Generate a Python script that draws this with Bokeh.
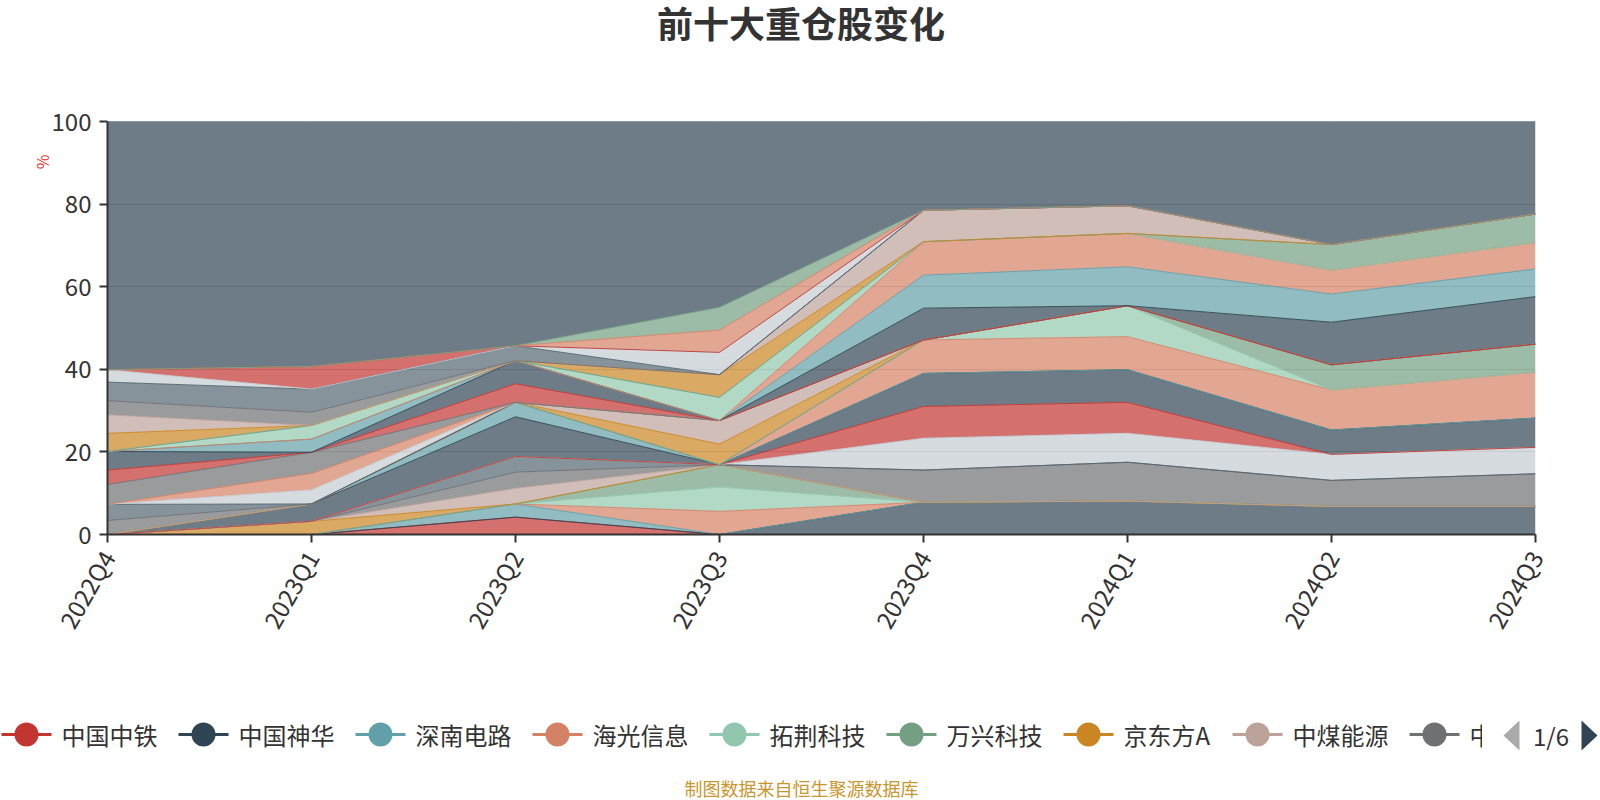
import math
from bokeh.plotting import figure
from bokeh.models import Range1d, FixedTicker, ColumnDataSource, Title
from bokeh.layouts import column, row
from bokeh.embed import file_html
from bokeh.resources import INLINE
from bokeh.core.properties import value

FONT = "Noto Sans CJK SC"

quarters = ["2022Q4", "2023Q1", "2023Q2", "2023Q3", "2023Q4", "2024Q1", "2024Q2", "2024Q3"]
palette = ["#c23531", "#2f4554", "#61a0a8", "#d48265", "#91c7ae", "#749f83",
           "#ca8622", "#bda29a", "#6e7074", "#546570", "#c4ccd3"]

legend_names = ["中国中铁", "中国神华", "深南电路", "海光信息", "拓荆科技",
                "万兴科技", "京东方A", "中煤能源", "中"]

# holdings (% of net value), per series in original series order
s00 = [0, 0, 4.2, 0, 0, 0, 0, 0]          # 中国中铁
s01 = [0, 0, 0, 0, 7.8, 8.1, 6.8, 6.8]    # 中国神华
s02 = [0, 0, 3.2, 0, 0, 0, 0, 0]          # 深南电路
s03 = [0, 0, 0, 5.6, 0, 0, 0, 0]          # 海光信息
s04 = [0, 0, 0, 5.9, 0, 0, 0, 0]          # 拓荆科技
s05 = [0, 0, 0, 5.4, 0, 0, 0, 0]          # 万兴科技
s06 = [0, 3.2, 0, 0, 0, 0, 0, 0]          # 京东方A
s07 = [0, 0, 3.8, 0, 0, 0, 0, 0]          # 中煤能源
s08 = [0, 0, 3.9, 0, 7.8, 9.4, 6.3, 7.9]
s09 = [0, 0, 3.8, 0, 0, 0, 0, 0]
s10 = [0, 0, 0, 0, 7.7, 7.0, 6.3, 6.4]
s11 = [0, 0, 0, 0, 7.7, 7.5, 0, 0]
s12 = [0, 4.2, 9.6, 0, 8.0, 7.9, 5.9, 7.1]
s13 = [0, 0, 3.5, 0, 0, 0, 0, 0]
s14 = [0, 0, 0, 0, 8.1, 8.0, 9.7, 11.1]
s15 = [0, 0, 0, 0, 0, 7.5, 0, 0]
s16 = [0, 0, 0, 0, 0, 0, 6.1, 6.8]
s17 = [0, 0, 0, 5.0, 0, 0, 0, 0]
s18 = [0, 0, 0, 5.7, 0, 0, 0, 0]
s19 = [3.4, 0, 0, 0, 0, 0, 0, 0]
s20 = [3.9, 0, 0, 0, 0, 0, 0, 0]
s21 = [0, 3.4, 0, 0, 0, 0, 0, 0]
s25 = [0, 4.0, 0, 0, 0, 0, 0, 0]
s30 = [4.8, 5.1, 0, 0, 0, 0, 0, 0]
s33 = [3.5, 0, 4.5, 0, 0, 0, 0, 0]
s34 = [4.5, 0, 5.6, 0, 7.7, 0, 10.3, 11.5]
s35 = [0, 3.2, 0, 0, 8.0, 9.4, 6.8, 6.7]
s36 = [0, 0, 0, 0, 8.1, 8.1, 5.8, 6.4]
s37 = [0, 3.3, 0, 5.6, 0, 0, 0, 0]
s38 = [0, 0, 0, 0, 0, 0, 6.2, 6.9]
s39 = [4.4, 0, 0, 5.5, 0, 0, 0, 0]
s40 = [4.5, 0, 0, 0, 7.6, 6.7, 0, 0]
s41 = [3.4, 3.2, 0, 0, 0, 0, 0, 0]
s42 = [4.5, 5.6, 3.6, 0, 0, 0, 0, 0]
s43 = [3.0, 0, 0, 5.4, 0, 0, 0, 0]
s44 = [0, 5.5, 0, 0, 0, 0, 0, 0]
s47 = [0, 0, 0, 5.4, 0, 0, 0, 0]
s49 = [0, 0, 0, 5.5, 0, 0, 0, 0]

series_index = [0, 1, 2, 3, 4, 5, 6, 7, 8, 9, 10, 11, 12, 13, 14, 15, 16, 17, 18,
                19, 20, 21, 25, 30, 33, 34, 35, 36, 37, 38, 39, 40, 41, 42, 43, 44, 47, 49]
series_values = [s00, s01, s02, s03, s04, s05, s06, s07, s08, s09, s10, s11, s12, s13,
                 s14, s15, s16, s17, s18, s19, s20, s21, s25, s30, s33, s34, s35, s36,
                 s37, s38, s39, s40, s41, s42, s43, s44, s47, s49]

data = {"x": list(range(len(quarters)))}
stackers = []
colors = []
for idx, vals in zip(series_index, series_values):
    key = "s%02d" % idx
    data[key] = vals
    stackers.append(key)
    colors.append(palette[idx % len(palette)])
totals = [sum(v[i] for v in series_values) for i in range(len(quarters))]
data["other"] = [100 - t for t in totals]
stackers.append("other")
colors.append("#2f4554")
src = ColumnDataSource(data)

W_TOTAL = 1598
H_TITLE = 60
H_MAIN = 628
H_LEG = 110


def blank_fig(w, h):
    f = figure(width=w, height=h, x_range=Range1d(0, w), y_range=Range1d(h, 0),
               output_backend="svg", toolbar_location=None, title=None,
               min_border=0, min_border_left=0, min_border_right=0,
               min_border_top=0, min_border_bottom=0)
    f.axis.visible = False
    f.grid.visible = False
    f.outline_line_color = None
    return f


# title
tf = blank_fig(W_TOTAL, H_TITLE)
tf.text(x=[615], y=[21], text=["前十大重仓股变化"], text_font=value(FONT),
        text_font_size="36px", text_font_style="bold", text_color="#333333",
        text_align="left", text_baseline="middle")

# main chart
p = figure(width=W_TOTAL, height=H_MAIN, x_range=Range1d(0, 7), y_range=Range1d(0, 100),
           output_backend="svg", toolbar_location=None, title=None,
           min_border_left=107, min_border_right=W_TOTAL - 1535,
           min_border_top=121 - H_TITLE, min_border_bottom=H_TITLE + H_MAIN - 534)
p.outline_line_color = None
p.background_fill_color = "white"
p.border_fill_color = "white"

p.varea_stack(stackers, x="x", fill_color=colors, fill_alpha=0.7, source=src)
p.vline_stack(stackers, x="x", line_color=colors, line_width=1, line_alpha=0.9, source=src)

p.xgrid.visible = False
p.ygrid.grid_line_color = "#cccccc"
p.ygrid.grid_line_width = 1

p.xaxis.ticker = FixedTicker(ticks=list(range(len(quarters))))
p.xaxis.major_label_overrides = {i: q for i, q in enumerate(quarters)}
p.xaxis.major_label_orientation = math.pi / 3
p.yaxis.ticker = FixedTicker(ticks=[0, 20, 40, 60, 80, 100])
for ax in (p.xaxis, p.yaxis):
    ax.axis_line_color = "#333333"
    ax.axis_line_width = 2
    ax.major_tick_line_color = "#333333"
    ax.major_tick_line_width = 2
    ax.major_tick_in = 0
    ax.major_tick_out = 8
    ax.minor_tick_line_color = None
    ax.major_label_text_font = FONT
    ax.major_label_text_font_size = "24px"
    ax.major_label_text_color = "#333333"
p.yaxis.major_label_standoff = 8
p.xaxis.major_label_standoff = 10

p.add_layout(Title(text="%", align="right", offset=33, standoff=-10,
                   text_font=FONT, text_font_size="16px", text_font_style="normal",
                   text_color="#ee3333"), "left")

# legend (page 1 of 6)
LEG_W = 1482
leg = blank_fig(LEG_W, H_LEG)


def text_w(s):
    return sum(16 if ord(c) < 128 else 24 for c in s)


cx = [26]
for nm in legend_names[:-1]:
    cx.append(cx[-1] + 25 + 10 + text_w(nm) + 21 + 25)
leg_y = 46
leg_src = ColumnDataSource(dict(
    cx=cx, x0=[c - 25 for c in cx], x1=[c + 25 for c in cx], tx=[c + 35 for c in cx],
    y=[leg_y] * len(cx), name=legend_names, color=palette[:len(cx)]))
leg.segment(x0="x0", x1="x1", y0="y", y1="y", line_color="color", line_width=3, source=leg_src)
leg.scatter(x="cx", y="y", size=24, fill_color="color", line_color=None, source=leg_src)
leg.text(x="tx", y="y", text="name", text_font=value(FONT), text_font_size="24px",
         text_color="#333333", text_baseline="middle", text_align="left", source=leg_src)
leg.text(x=[684], y=[99], text=["制图数据来自恒生聚源数据库"], text_font=value(FONT),
         text_font_size="18px", text_color="#c8962e", text_align="left", text_baseline="middle")

# pager
PG_W = W_TOTAL - LEG_W
pg = blank_fig(PG_W, H_LEG)
tri_h = 15
tri_w = 16
lx, rx = 21, 115
pg.patch(x=[lx, lx + tri_w, lx + tri_w], y=[47, 47 - tri_h, 47 + tri_h], fill_color="#aaaaaa", line_color=None)
pg.patch(x=[rx, rx - tri_w, rx - tri_w], y=[47, 47 - tri_h, 47 + tri_h], fill_color="#2f4554", line_color=None)
pg.text(x=[68.5], y=[47], text=["1/6"], text_font=value(FONT), text_font_size="24px",
        text_color="#333333", text_align="center", text_baseline="middle")

layout = column(tf, p, row(leg, pg))
open("out.html", "w").write(file_html(layout, INLINE))
